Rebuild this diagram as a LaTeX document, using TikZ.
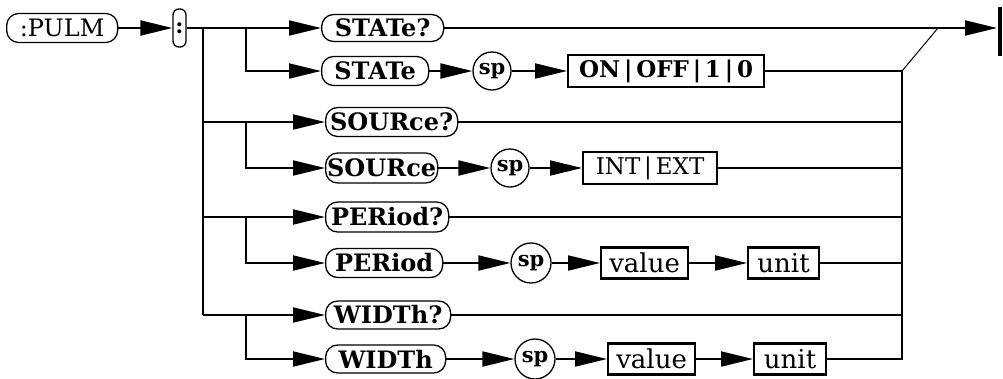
\documentclass[tikz,border=0pt]{standalone}
\usepackage{fontspec}
\setmainfont{DejaVu Serif}
\usetikzlibrary{arrows.meta,positioning,calc}

\begin{document}
\begin{tikzpicture}[
      x=1pt, y=-1pt, line width=2pt,
      kw/.style={draw, rounded corners=12pt, line width=1.3pt, anchor=west,
        inner sep=0pt, font=\fontsize{24}{26}\selectfont\bfseries},
      sp/.style={draw, circle, line width=1.3pt, inner sep=0pt, minimum size=38pt,
        font=\fontsize{21}{23}\selectfont\bfseries},
      par/.style={draw, rectangle, line width=2.2pt, anchor=west, inner sep=0pt,
        minimum height=31pt, font=\fontsize{23}{25}\selectfont},
      arr/.style={-{Triangle[length=32pt,width=15pt]}},
    ]
    \useasboundingbox (0,0) rectangle (1003,378);
    % --- root and separator ---
    \node[kw, font=\fontsize{24}{26}\selectfont, minimum width=111pt, minimum height=29pt] (pulm) at (6,28) {:PULM};
    \node[draw, rounded corners=6pt, line width=1.3pt, minimum width=13pt, minimum height=38pt,
      inner sep=0pt, font=\fontsize{22}{24}\selectfont\bfseries] (colon) at (179.5,28) {:};
    \draw[arr] (pulm) -- (colon);

    % --- branch nodes ---
    \node[kw, minimum width=122pt, minimum height=27pt] (stateq) at (321,28) {STATe?};
    \node[kw, minimum width=107pt, minimum height=29pt] (state) at (321,71) {STATe};
    \node[sp] (sp1) at (492,71) {sp};
    \node[par, font=\fontsize{23}{25}\selectfont\bfseries, minimum width=196pt, minimum height=32pt] (onoff) at (567,71) {ON\,|\,OFF\,|\,1\,|\,0};

    \node[kw, minimum width=132pt, minimum height=29pt] (sourceq) at (325,122) {SOURce?};
    \node[kw, minimum width=112pt, minimum height=30pt] (source) at (325,168) {SOURce};
    \node[sp] (sp2) at (510,168) {sp};
    \node[par, minimum width=134pt, minimum height=32pt] (intext) at (582,168) {INT\,|\,EXT};

    \node[kw, minimum width=123pt, minimum height=30pt] (periodq) at (325,217) {PERiod?};
    \node[kw, minimum width=117pt, minimum height=29pt] (period) at (325,263) {PERiod};
    \node[sp, minimum size=40pt] (sp3) at (531,263) {sp};
    \node[par, minimum width=87pt, font=\fontsize{26}{28}\selectfont] (value1) at (600,263) {value};
    \node[par, minimum width=71pt, font=\fontsize{26}{28}\selectfont] (unit1) at (747,263) {unit};

    \node[kw, minimum width=125pt, minimum height=28pt] (widthq) at (325,315) {WIDTh?};
    \node[kw, minimum width=120pt, minimum height=28pt] (width) at (325,359) {WIDTh};
    \node[sp, minimum size=40pt] (sp4) at (535,359) {sp};
    \node[par, minimum width=87pt, font=\fontsize{26}{28}\selectfont] (value2) at (607,359) {value};
    \node[par, minimum width=72pt, font=\fontsize{26}{28}\selectfont] (unit2) at (753,359) {unit};

    % --- end bar ---
    \node[fill, minimum width=4pt, minimum height=49pt, inner sep=0pt] (endbar) at (1000,31.5) {};

    % --- junctions ---
    \coordinate (t1) at (203,28);   \coordinate (t3) at (203,122);
    \coordinate (t5) at (203,217);  \coordinate (t7) at (203,315);
    \coordinate (b1) at (246,28);   \coordinate (b3) at (246,122);
    \coordinate (b5) at (246,217);  \coordinate (b7) at (246,315);
    \coordinate (c2) at (902,71);   \coordinate (c8) at (902,359);
    \coordinate (merge) at (938,28);

    % --- left trunk ---
    \draw[arr] (colon.east) -- (stateq);
    \draw (t1) -- (t7);
    \draw[arr] (b1) |- (state);
    \draw[arr] (t3) -- (sourceq);  \draw[arr] (b3) |- (source);
    \draw[arr] (t5) -- (periodq);  \draw[arr] (b5) |- (period);
    \draw[arr] (t7) -- (widthq);   \draw[arr] (b7) |- (width);

    % --- rows ---
    \draw[arr] (state) -- (sp1);   \draw[arr] (sp1) -- (onoff);
    \draw[arr] (source) -- (sp2);  \draw[arr] (sp2) -- (intext);
    \draw[arr] (period) -- (sp3);  \draw[arr] (sp3) -- (value1);  \draw[arr] (value1) -- (unit1);
    \draw[arr] (width) -- (sp4);   \draw[arr] (sp4) -- (value2);  \draw[arr] (value2) -- (unit2);

    % --- right collector ---
    \draw[arr] (stateq.east) -- (stateq.east -| endbar.west);
    \draw (onoff) -- (c2) -- (c8) -- (unit2);
    \draw[line width=1pt] (c2) -- (merge);
    \draw (sourceq.east) -- (sourceq.east -| c2);
    \draw (intext.east) -- (intext.east -| c2);
    \draw (periodq.east) -- (periodq.east -| c2);
    \draw (unit1.east) -- (unit1.east -| c2);
    \draw (widthq.east) -- (widthq.east -| c2);
  \end{tikzpicture}
\end{document}
